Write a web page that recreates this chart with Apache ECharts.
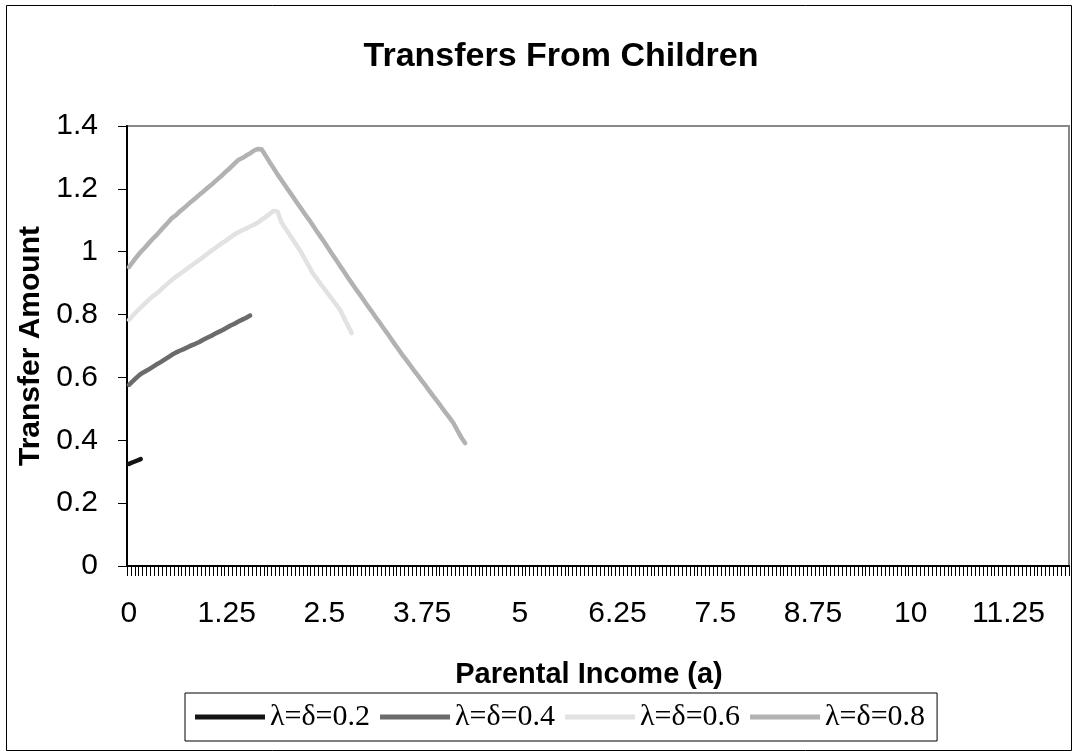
<!DOCTYPE html>
<html>
<head>
<meta charset="utf-8">
<title>Transfers From Children</title>
<script src="https://cdn.jsdelivr.net/npm/echarts@6/dist/echarts.min.js"></script>
<style>
  html, body { margin: 0; padding: 0; background: #fff; }
  #chart { width: 1073px; height: 751px; }
</style>
</head>
<body>
<div id="chart"></div>
<script>
// parental income categories, 0 .. 12 in steps of 0.05 (like the Excel category axis)
var incomeCats = [];
for (var i = 0; i <= 240; i++) {
  incomeCats.push(String(Number((i * 0.05).toFixed(2))));
}

var seriesNames = ['λ=δ=0.2', 'λ=δ=0.4', 'λ=δ=0.6', 'λ=δ=0.8'];
var seriesColors = ['#141414', '#6b6b6b', '#e2e2e2', '#b2b2b2'];

// values, one per category from income 0
var lambda02 = [0.325, 0.33, 0.335, 0.34];

var lambda04 = [
  0.576, 0.588, 0.600, 0.611, 0.618, 0.625, 0.633, 0.641, 0.648, 0.656,
  0.664, 0.672, 0.679, 0.685, 0.690, 0.696, 0.702, 0.707, 0.713, 0.720,
  0.726, 0.732, 0.739, 0.745, 0.751, 0.758, 0.765, 0.771, 0.778, 0.784,
  0.790, 0.797
];

var lambda06 = [
  0.783, 0.797, 0.810, 0.822, 0.834, 0.846, 0.857, 0.866, 0.877, 0.889,
  0.900, 0.910, 0.920, 0.929, 0.938, 0.947, 0.956, 0.965, 0.974, 0.983,
  0.993, 1.002, 1.011, 1.020, 1.029, 1.037, 1.046, 1.055, 1.062, 1.068,
  1.074, 1.080, 1.086, 1.093, 1.102, 1.111, 1.120, 1.130, 1.128, 1.094,
  1.075, 1.056, 1.037, 1.018, 0.999, 0.977, 0.955, 0.932, 0.915, 0.898,
  0.882, 0.865, 0.848, 0.832, 0.815, 0.790, 0.765, 0.741
];

var lambda08 = [
  0.951, 0.968, 0.984, 0.999, 1.012, 1.026, 1.040, 1.052, 1.066, 1.080,
  1.093, 1.107, 1.116, 1.128, 1.138, 1.149, 1.160, 1.170, 1.181, 1.191,
  1.202, 1.212, 1.223, 1.234, 1.245, 1.257, 1.268, 1.280, 1.292, 1.298,
  1.306, 1.313, 1.322, 1.327, 1.325, 1.305, 1.285, 1.266, 1.246, 1.228,
  1.210, 1.192, 1.174, 1.156, 1.138, 1.120, 1.103, 1.085, 1.066, 1.048,
  1.030, 1.011, 0.992, 0.974, 0.955, 0.937, 0.918, 0.900, 0.882, 0.865,
  0.847, 0.829, 0.812, 0.794, 0.777, 0.759, 0.742, 0.724, 0.706, 0.689,
  0.671, 0.655, 0.638, 0.621, 0.605, 0.588, 0.572, 0.555, 0.538, 0.522,
  0.505, 0.488, 0.472, 0.455, 0.432, 0.410, 0.391
];

var seriesData = [lambda02, lambda04, lambda06, lambda08];

var sansFont = '"Liberation Sans", Arial, sans-serif';

var myChart = echarts.init(document.getElementById('chart'));

var option = {
  backgroundColor: '#fff',
  animation: false,
  title: {
    text: 'Transfers From Children',
    left: 556,
    textAlign: 'center',
    top: 35,
    textStyle: { fontFamily: sansFont, fontSize: 34, fontWeight: 'bold', color: '#000' }
  },
  legend: {
    data: seriesNames,
    left: 185,
    top: 693,
    orient: 'horizontal',
    icon: 'rect',
    padding: [9, 12, 9, 10],
    itemGap: 10,
    itemWidth: 70,
    itemHeight: 5,
    borderColor: '#000',
    borderWidth: 1,
    textStyle: { fontFamily: '"Liberation Serif", "Times New Roman", serif', fontSize: 30, color: '#000' }
  },
  grid: {
    left: 127,
    right: 4,
    top: 126,
    bottom: 185,
    show: true,
    borderColor: '#888',
    borderWidth: 2
  },
  xAxis: {
    type: 'category',
    data: incomeCats,
    boundaryGap: true,
    name: 'Parental Income (a)',
    nameLocation: 'middle',
    nameGap: 94,
    nameTextStyle: { fontFamily: sansFont, fontSize: 29, fontWeight: 'bold', color: '#000', padding: [0, 18, 0, 0] },
    axisLine: { show: true, lineStyle: { color: '#000', width: 2 } },
    axisTick: { show: true, interval: 0, length: 10, lineStyle: { color: '#000', width: 1 } },
    axisLabel: { interval: 24, margin: 33, fontFamily: sansFont, fontSize: 30, color: '#000' },
    splitLine: { show: false }
  },
  yAxis: {
    type: 'value',
    min: 0,
    max: 1.4,
    interval: 0.2,
    name: 'Transfer Amount',
    nameLocation: 'middle',
    nameGap: 80,
    nameTextStyle: { fontFamily: sansFont, fontSize: 30, fontWeight: 'bold', color: '#000' },
    axisLine: { show: true, lineStyle: { color: '#000', width: 2 } },
    axisTick: { show: true, length: 9, lineStyle: { color: '#000', width: 1 } },
    axisLabel: { margin: 29, fontFamily: sansFont, fontSize: 30, color: '#000' },
    splitLine: { show: false }
  },
  series: seriesNames.map(function (name, k) {
    return {
      name: name,
      type: 'line',
      data: seriesData[k],
      symbol: 'none',
      smooth: false,
      color: seriesColors[k],
      lineStyle: { color: seriesColors[k], width: 4.5, cap: 'round', join: 'round' }
    };
  }),
  graphic: [
    {
      type: 'rect',
      left: 4,
      top: 3,
      shape: { width: 1065, height: 745 },
      style: { fill: 'none', stroke: '#000', lineWidth: 1 },
      silent: true
    }
  ]
};

myChart.setOption(option);
window.addEventListener('resize', function () {
  myChart.resize();
});
</script>
</body>
</html>
